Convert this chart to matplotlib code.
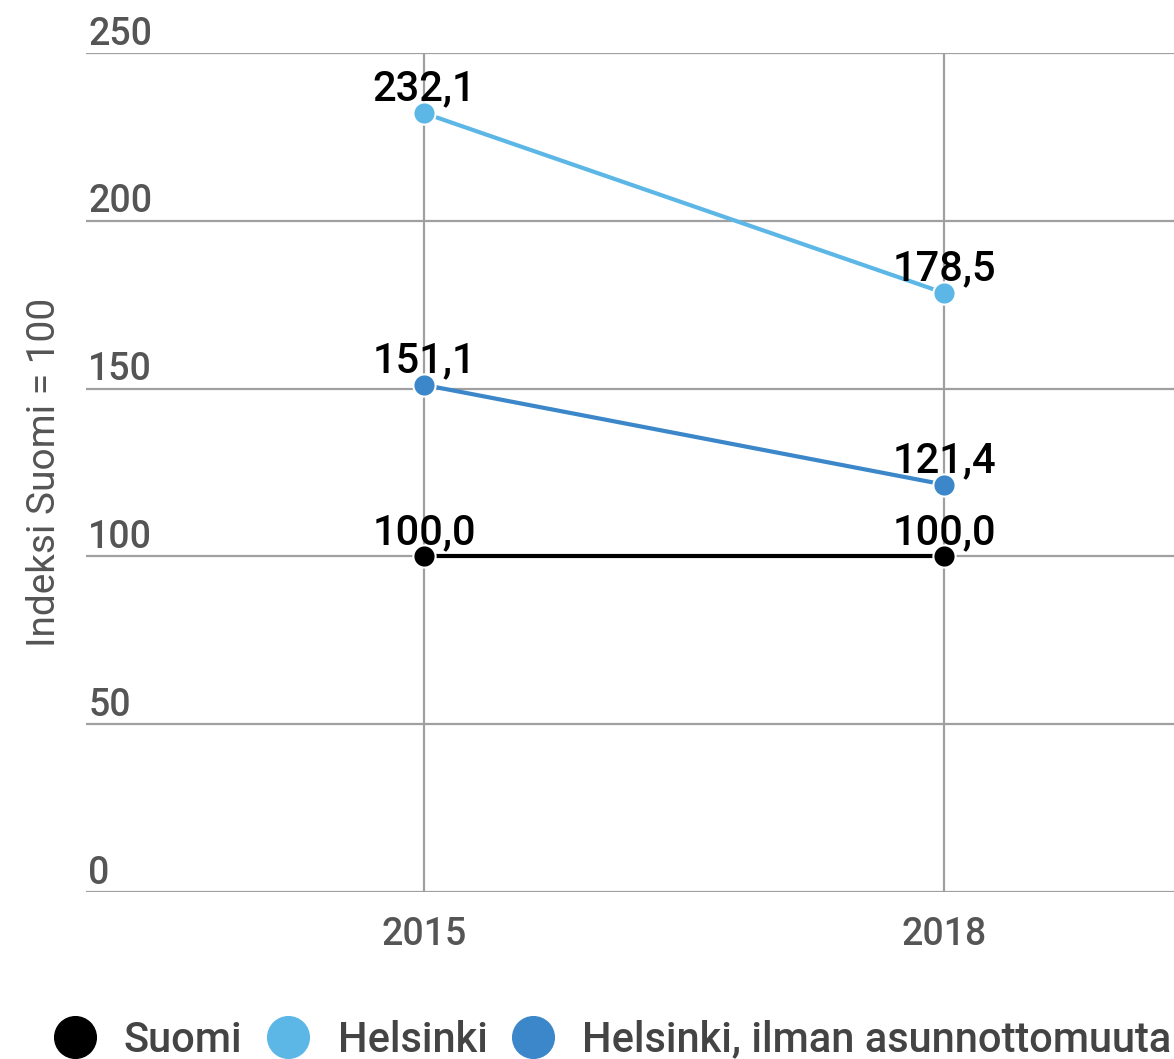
import matplotlib
matplotlib.use('Agg')
import matplotlib.pyplot as plt
from matplotlib.lines import Line2D
from matplotlib import transforms

plt.rcParams['font.family'] = ['Roboto', 'DejaVu Sans']
plt.rcParams['font.weight'] = 'medium'

years = ['2015', '2018']
suomi = [100.0, 100.0]
helsinki = [232.1, 178.5]
helsinki_ilman = [151.1, 121.4]
series_names = ['Suomi', 'Helsinki', 'Helsinki, ilman asunnottomuuta']
colors = ['#000000', '#5db7e6', '#3b87c9']
y_ticks = [0, 50, 100, 150, 200, 250]

fig = plt.figure(figsize=(11.74, 10.59), dpi=100)
ax = fig.add_axes([86 / 1174, 167 / 1059, 1088 / 1174, 839 / 1059])

x = list(range(len(years)))
for vals, col in zip([suomi, helsinki, helsinki_ilman], colors):
    ax.plot(x, vals, color=col, lw=3, marker='o', markersize=16,
            markeredgecolor='white', markeredgewidth=1.5, zorder=5,
            solid_capstyle='butt')
    for xi, v in zip(x, vals):
        ax.annotate(f'{v:.1f}'.replace('.', ','), (xi, v), xytext=(0, 9),
                    textcoords='offset points', ha='center', va='baseline',
                    fontsize=30, color='black', zorder=6)

ax.set_xlim(-0.65, 1.442)
ax.set_ylim(0, 250)
ax.set_xticks(x)
ax.set_xticklabels(years, fontsize=27, color='#555555')
ax.set_yticks(y_ticks)
ax.set_yticklabels([])
ax.tick_params(axis='both', length=0)
ax.tick_params(axis='x', pad=17)
ax.grid(True, color='#a0a0a0', lw=1.6)
ax.set_axisbelow(True)
for s in ax.spines.values():
    s.set_visible(False)

# y tick labels sit above the gridlines, left aligned
trans = transforms.blended_transform_factory(ax.transAxes, ax.transData)
for t in y_ticks:
    ax.text(0.002, t, str(t), transform=trans + transforms.ScaledTranslation(0, 6 / 72, fig.dpi_scale_trans),
            ha='left', va='baseline', fontsize=27, color='#555555')

fig.text(45 / 1174, 1 - 472 / 1059, 'Indeksi Suomi = 100', rotation=90,
         ha='center', va='center', fontsize=28, color='#555555',
         fontweight='normal')

handles = [Line2D([], [], color=c, marker='o', linestyle='', markersize=30)
           for c in colors]
fig.legend(handles, series_names, loc='center', bbox_to_anchor=(0.522, 1 - 1040 / 1059),
           ncol=3, frameon=False, fontsize=30, handletextpad=0.68,
           columnspacing=0.6, handlelength=1.0, labelcolor='#444444')

fig.savefig('out.png', dpi=100)
